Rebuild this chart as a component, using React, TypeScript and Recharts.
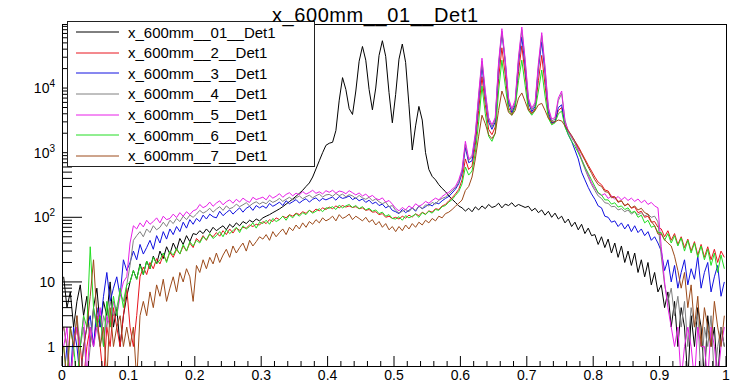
import { LineChart, Line, XAxis, YAxis, ReferenceArea, Legend } from 'recharts';

const FONT = "'Liberation Sans', Arial, Helvetica, sans-serif";

// histogram bins: 200 bins of width 0.005 between 0 and 1, plotted at the bin centres
const BIN_COUNT = 200;
const binCentres = Array.from({ length: BIN_COUNT }, (_, i) => +(i * 0.005 + 0.0025).toFixed(4));

// y range of the frame (log axis)
const Y_MIN = 0.5;
const Y_MAX = 98000;

// counts per bin (0.3 = empty bin, drawn below the frame)
const det01 = [
  12, 4, 7, 2, 5, 9, 3, 6, 1, 4, 8, 2, 5, 3, 10, 2, 4, 1, 3, 6,
  10, 15, 11, 19, 13, 21, 16, 25, 19, 30, 23, 35, 27, 40, 31, 47, 38, 52, 42, 56,
  54, 62, 56, 66, 58, 70, 62, 68, 74, 64, 78, 70, 82, 74, 86, 80, 90, 84, 94, 88,
  98, 104, 110, 118, 126, 135, 146, 160, 175, 192, 212, 235, 262, 300, 340, 420, 560, 750, 1000, 1300,
  1400, 1450, 2200, 6500, 14500, 9500, 4800, 3900, 9000, 26000, 44000, 27000, 9500, 4600, 10000, 32000, 54000, 31000, 8500, 2900,
  8000, 28000, 48000, 25000, 5500, 1100, 2600, 5200, 3200, 1000, 550, 430, 380, 320, 280, 250, 215, 190, 170, 150,
  140, 125, 138, 122, 145, 130, 150, 136, 158, 142, 148, 165, 140, 160, 152, 168, 146, 158, 150, 142,
  148, 126, 138, 118, 130, 108, 124, 100, 116, 94, 104, 82, 94, 72, 84, 64, 78, 56, 68, 52,
  54, 38, 50, 34, 46, 28, 40, 24, 36, 20, 30, 18, 28, 14, 22, 12, 20, 9, 14, 7,
  9, 4, 7, 2, 5, 1, 4, 2, 0.3, 3, 1, 4, 2, 0.3, 3, 1, 2, 0.3, 2, 1,
];

const det02 = [
  2, 1, 0.3, 1, 2, 1, 0.3, 1, 2, 1, 3, 1, 0.3, 2, 1, 4, 2, 1, 3, 8,
  2, 1, 3, 12, 17, 13, 20, 16, 23, 19, 26, 21, 29, 24, 32, 27, 36, 30, 40, 34,
  47, 42, 52, 44, 55, 50, 58, 51, 62, 54, 66, 57, 68, 63, 70, 68, 76, 72, 78, 76,
  86, 80, 92, 86, 98, 92, 104, 98, 110, 104, 116, 110, 122, 115, 128, 120, 134, 126, 140, 132,
  144, 136, 150, 140, 152, 144, 150, 142, 146, 136, 140, 128, 132, 120, 122, 110, 114, 100, 104, 96,
  100, 94, 104, 97, 108, 101, 113, 106, 120, 112, 126, 120, 136, 132, 150, 158, 180, 200, 230, 270,
  380, 800, 550, 620, 1300, 4500, 15000, 5500, 2300, 1900, 2500, 14000, 42000, 16000, 5000, 4000, 5200, 18000, 45000, 16000,
  5000, 4000, 4800, 13000, 32000, 11000, 3800, 2800, 3000, 4500, 5000, 2700, 2100, 1800, 1500, 1250, 1000, 800, 640, 520,
  420, 350, 320, 265, 255, 210, 208, 176, 180, 152, 162, 138, 145, 118, 124, 100, 104, 84, 86, 70,
  66, 50, 62, 44, 56, 38, 50, 34, 46, 30, 42, 26, 38, 24, 35, 22, 32, 20, 30, 24,
];

const det03 = [
  0.3, 1, 0.3, 2, 1, 0.3, 1, 2, 3, 1, 4, 2, 6, 14, 5, 8, 12, 6, 22, 15,
  20, 30, 22, 38, 27, 34, 44, 32, 52, 40, 60, 46, 66, 54, 72, 60, 84, 68, 92, 78,
  96, 86, 108, 94, 112, 102, 98, 124, 106, 118, 130, 112, 126, 140, 120, 138, 148, 128, 152, 140,
  150, 138, 164, 148, 158, 172, 152, 180, 162, 174, 188, 166, 182, 194, 172, 190, 200, 178, 196, 186,
  196, 206, 184, 210, 196, 202, 214, 188, 200, 180, 192, 170, 184, 162, 172, 152, 160, 140, 150, 128,
  122, 114, 132, 118, 128, 140, 124, 150, 136, 146, 160, 150, 168, 162, 180, 196, 210, 238, 272, 330,
  480, 1200, 700, 750, 1700, 6500, 22000, 7500, 3000, 2300, 3000, 21000, 72000, 25000, 6000, 4200, 5500, 25000, 62000, 22000,
  6000, 4300, 5200, 20000, 52000, 17000, 4300, 2900, 3000, 5000, 5500, 2600, 1900, 1500, 1100, 800, 500, 380, 290, 230,
  190, 150, 140, 104, 100, 84, 88, 72, 82, 66, 78, 60, 74, 58, 66, 52, 60, 44, 50, 40,
  30, 15, 22, 10, 18, 8, 14, 22, 9, 16, 11, 25, 8, 14, 20, 7, 12, 18, 6, 10,
];

const det04 = [
  2, 1, 0.3, 1, 3, 1, 2, 0.3, 1, 4, 2, 1, 3, 2, 5, 3, 4, 7, 5, 9,
  18, 44, 52, 60, 50, 66, 58, 74, 64, 70, 84, 72, 90, 80, 96, 86, 104, 92, 108, 100,
  112, 128, 116, 124, 138, 120, 134, 146, 128, 150, 136, 142, 160, 146, 156, 168, 150, 164, 174, 160,
  172, 162, 184, 170, 180, 196, 176, 190, 204, 186, 200, 214, 194, 208, 220, 200, 216, 228, 206, 222,
  226, 212, 234, 216, 228, 208, 224, 214, 196, 218, 200, 190, 204, 180, 192, 174, 162, 172, 146, 152,
  128, 116, 124, 132, 122, 140, 128, 148, 136, 156, 150, 170, 160, 184, 196, 206, 228, 256, 288, 345,
  520, 1350, 760, 850, 1850, 7500, 26000, 8500, 3300, 2500, 3300, 23000, 76000, 26000, 6500, 4500, 6000, 28000, 80000, 26000,
  6500, 4600, 5600, 22000, 65000, 20000, 4700, 3100, 3300, 6400, 8200, 3200, 2100, 1700, 1400, 1050, 760, 560, 420, 320,
  260, 214, 196, 168, 164, 146, 148, 130, 136, 122, 130, 112, 122, 110, 118, 104, 112, 100, 104, 85,
  25, 9, 5, 8, 3, 6, 2, 5, 1, 4, 2, 3, 0.3, 2, 1, 3, 0.3, 1, 2, 1,
];

const det05 = [
  1, 2, 0.3, 1, 2, 1, 3, 0.3, 2, 1, 2, 4, 1, 3, 2, 5, 3, 6, 10, 12,
  40, 74, 66, 82, 71, 90, 78, 86, 98, 82, 104, 92, 96, 112, 99, 118, 104, 122, 110, 126,
  132, 158, 141, 150, 172, 148, 166, 180, 156, 174, 186, 165, 190, 172, 198, 181, 170, 204, 188, 196,
  205, 186, 220, 198, 212, 232, 204, 226, 240, 215, 236, 222, 250, 228, 242, 262, 235, 248, 230, 258,
  244, 262, 236, 255, 248, 232, 258, 240, 222, 238, 214, 228, 205, 218, 196, 186, 200, 172, 182, 160,
  138, 126, 142, 130, 150, 138, 162, 148, 158, 176, 165, 182, 198, 186, 210, 228, 244, 272, 300, 380,
  550, 1500, 800, 900, 2000, 8000, 29000, 9000, 3500, 2700, 3500, 25000, 83000, 28000, 7000, 4800, 6500, 30000, 88000, 28000,
  7000, 4900, 6000, 24000, 72000, 21000, 5000, 3300, 3500, 7000, 9000, 3000, 2200, 1800, 1500, 1100, 800, 600, 450, 340,
  280, 236, 218, 232, 196, 214, 190, 210, 186, 204, 182, 198, 176, 192, 168, 184, 158, 170, 150, 140,
  35, 10, 4, 2, 1, 2, 0.3, 1, 2, 1, 0.3, 2, 1, 1, 0.3, 2, 1, 0.3, 1, 2,
];

const det06 = [
  1, 0.3, 2, 1, 0.3, 1, 3, 2, 35, 4, 2, 3, 1, 5, 2, 6, 3, 8, 4, 9,
  10, 15, 11, 18, 13, 21, 16, 24, 19, 22, 28, 20, 30, 26, 33, 27, 38, 30, 42, 36,
  44, 40, 50, 45, 56, 47, 52, 60, 50, 64, 56, 62, 70, 58, 74, 66, 72, 82, 68, 84,
  80, 90, 78, 96, 86, 92, 104, 90, 108, 98, 114, 104, 118, 110, 128, 116, 124, 136, 122, 140,
  138, 146, 132, 154, 140, 150, 158, 142, 152, 136, 146, 130, 138, 124, 130, 114, 120, 104, 110, 96,
  94, 102, 90, 106, 98, 104, 112, 100, 118, 110, 124, 116, 132, 128, 146, 152, 172, 188, 218, 250,
  330, 600, 450, 520, 1000, 3000, 10700, 4000, 1800, 1500, 2000, 9000, 27000, 11000, 4500, 3800, 5000, 13000, 27000, 11000,
  4500, 3800, 4500, 9000, 19000, 7500, 3400, 2700, 2900, 4000, 4400, 2500, 1900, 1500, 1250, 1000, 780, 600, 480, 380,
  300, 240, 222, 186, 186, 160, 168, 144, 150, 132, 140, 118, 124, 100, 108, 82, 90, 70, 74, 58,
  58, 44, 56, 40, 52, 36, 48, 30, 44, 28, 40, 24, 36, 22, 32, 18, 28, 14, 26, 16,
];

const det07 = [
  1, 0.3, 2, 1, 3, 0.3, 1, 2, 6, 22, 3, 1, 2, 0.3, 4, 1, 2, 3, 1, 2,
  1, 2, 0.3, 3, 5, 3, 7, 4, 9, 6, 11, 5, 8, 12, 7, 14, 10, 16, 12, 5,
  18, 14, 22, 16, 24, 19, 28, 20, 26, 32, 24, 36, 28, 34, 40, 30, 44, 36, 42, 50,
  46, 54, 44, 60, 50, 58, 66, 54, 70, 62, 76, 66, 82, 70, 86, 78, 92, 82, 98, 88,
  94, 104, 88, 110, 96, 102, 112, 92, 104, 96, 88, 100, 84, 92, 76, 86, 70, 80, 64, 72,
  60, 72, 62, 76, 66, 80, 70, 84, 76, 90, 82, 96, 88, 104, 98, 114, 120, 132, 148, 165,
  185, 260, 300, 420, 800, 1800, 3800, 2800, 1900, 1650, 2000, 4500, 9000, 6500, 4200, 3800, 4500, 7000, 8400, 6200,
  4500, 4100, 4500, 5500, 5800, 4500, 3400, 3000, 3000, 3200, 3100, 2600, 2200, 1850, 1500, 1200, 950, 760, 600, 480,
  380, 320, 300, 250, 244, 200, 206, 170, 180, 150, 162, 140, 150, 130, 138, 118, 112, 86, 74, 55,
  55, 45, 40, 36, 25, 15, 8, 14, 4, 9, 2, 6, 1, 4, 2, 1, 5, 2, 1, 3,
];

const SERIES = [
  { key: 's1', name: 'x_600mm__01__Det1', color: '#000000', values: det01 },
  { key: 's2', name: 'x_600mm__2__Det1', color: '#e8141e', values: det02 },
  { key: 's3', name: 'x_600mm__3__Det1', color: '#1010e0', values: det03 },
  { key: 's4', name: 'x_600mm__4__Det1', color: '#808080', values: det04 },
  { key: 's5', name: 'x_600mm__5__Det1', color: '#e81ee8', values: det05 },
  { key: 's6', name: 'x_600mm__6__Det1', color: '#22dd22', values: det06 },
  { key: 's7', name: 'x_600mm__7__Det1', color: '#9c4a1a', values: det07 },
];

const chartData = binCentres.map((x, i) => {
  const row: Record<string, number> = { x };
  SERIES.forEach(s => {
    row[s.key] = s.values[i];
  });
  return row;
});

const X_TICKS = Array.from({ length: 51 }, (_, i) => +(i * 0.02).toFixed(2));
const Y_DECADES = [1, 10, 100, 1000, 10000];
const Y_TICKS = Y_DECADES.flatMap(d => [1, 2, 3, 4, 5, 6, 7, 8, 9].map(m => m * d));

const xLabel = (v: number) => (v === 0 ? '0' : v === 1 ? '1' : v.toFixed(1));

// ROOT style ticks: drawn inside the frame
const renderXTick = ({ x, y, payload }: any) => {
  const v = payload.value;
  const major = Math.abs(v * 10 - Math.round(v * 10)) < 1e-6;
  return (
    <g>
      <line x1={x} x2={x} y1={y} y2={y - (major ? 10 : 5)} stroke="#000" />
      {major && (
        <text x={x} y={y + 14} textAnchor="middle" fontSize={14} fontFamily={FONT} fill="#000">
          {xLabel(v)}
        </text>
      )}
    </g>
  );
};

const renderYTick = ({ x, y, payload }: any) => {
  const v = payload.value;
  const lg = Math.log10(v);
  const exp = Math.round(lg);
  const major = Math.abs(lg - exp) < 1e-6;
  return (
    <g>
      <line x1={x} x2={x + (major ? 20 : 10)} y1={y} y2={y} stroke="#000" />
      {major && (
        <text x={x - 7} y={y + 5} textAnchor="end" fontSize={14} fontFamily={FONT} fill="#000">
          {exp === 0 ? '1' : exp === 1 ? '10' : (
            <>
              10<tspan dy={-6} fontSize={10}>{exp}</tspan>
            </>
          )}
        </text>
      )}
    </g>
  );
};

const LegendBox = () => (
  <div
    style={{
      width: 248,
      height: 146,
      boxSizing: 'border-box',
      border: '1px solid #222',
      background: '#fff',
      fontFamily: FONT,
      fontSize: 15,
      color: '#000',
    }}
  >
    {SERIES.map(s => (
      <div key={s.key} style={{ display: 'flex', alignItems: 'center', height: 20.57 }}>
        <svg width={60} height={20} style={{ flex: 'none' }}>
          <line x1={8} x2={51} y1={10} y2={10} stroke={s.color} />
        </svg>
        <span style={{ whiteSpace: 'nowrap' }}>{s.name}</span>
      </div>
    ))}
  </div>
);

export default function App() {
  return (
    <div style={{ position: 'absolute', left: 0, top: 0, width: 733, height: 382, background: '#fff' }}>
      <LineChart
        width={733}
        height={382}
        data={chartData}
        margin={{ top: 24, right: 7, bottom: 0, left: 0 }}
      >
        <XAxis
          type="number"
          dataKey="x"
          domain={[0, 1]}
          allowDataOverflow
          ticks={X_TICKS}
          interval={0}
          tick={renderXTick}
          tickLine={false}
          axisLine={false}
          tickSize={0}
          tickMargin={0}
          height={16}
        />
        <YAxis
          type="number"
          scale="log"
          domain={[Y_MIN, Y_MAX]}
          allowDataOverflow
          ticks={Y_TICKS}
          interval={0}
          tick={renderYTick}
          tickLine={false}
          axisLine={false}
          tickSize={0}
          tickMargin={0}
          width={62}
        />
        {SERIES.map(s => (
          <Line
            key={s.key}
            dataKey={s.key}
            name={s.name}
            type="linear"
            stroke={s.color}
            strokeWidth={1}
            dot={false}
            activeDot={false}
            isAnimationActive={false}
          />
        ))}
        {/* frame */}
        <ReferenceArea
          x1={0}
          x2={1}
          y1={Y_MIN}
          y2={Y_MAX}
          fill="none"
          stroke="#000"
          strokeWidth={1}
          ifOverflow="visible"
          shapeRendering="crispEdges"
        />
        <Legend
          layout="vertical"
          align="center"
          verticalAlign="middle"
          content={() => <LegendBox />}
          wrapperStyle={{ left: 67, top: 21, width: 248, height: 146 }}
        />
      </LineChart>
      <svg width={733} height={30} style={{ position: 'absolute', left: 0, top: 0, pointerEvents: 'none' }}>
        <text x={272} y={22} fontSize={20} fontFamily={FONT} textLength={206} lengthAdjust="spacing" fill="#000">
          x_600mm__01__Det1
        </text>
      </svg>
    </div>
  );
}
